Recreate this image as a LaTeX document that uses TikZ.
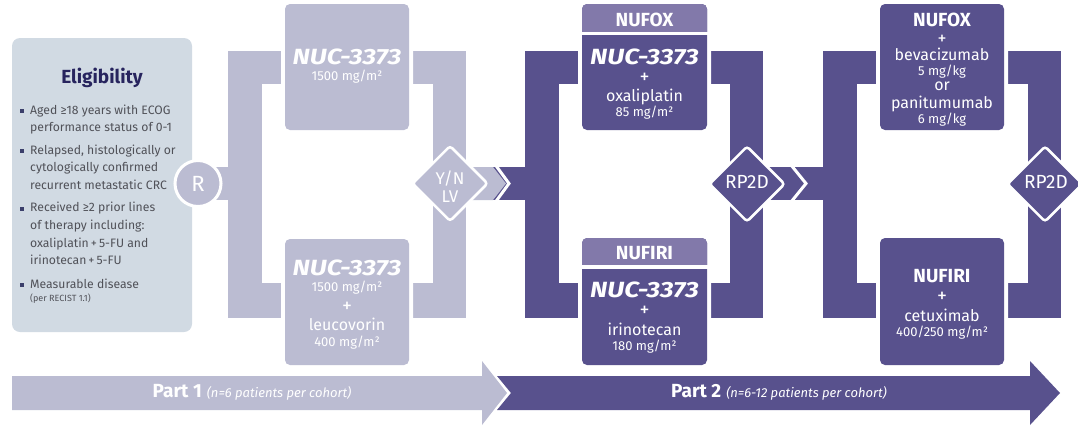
\documentclass[tikz,border=0pt]{standalone}
\usepackage{fontspec}
\setmainfont{Fira Sans}
\usetikzlibrary{shapes.geometric}
\definecolor{lite}{HTML}{BBBCD2}
\definecolor{dark}{HTML}{58518D}
\definecolor{head}{HTML}{8279AA}
\definecolor{elig}{HTML}{D1DAE3}
\definecolor{navy}{HTML}{27245E}
\definecolor{gtext}{HTML}{505158}
\definecolor{bul}{HTML}{3B3F6B}
\newcommand{\nuc}{\scalebox{1.2}[1]{NUC-3373}}
\begin{document}
\begin{tikzpicture}[x=1pt,y=-1pt,
  wt/.style={text=white, anchor=base, inner sep=0pt},
  fnuc/.style={font=\fontsize{22}{22}\selectfont\bfseries\itshape},
  fdose/.style={font=\fontsize{13}{13}\selectfont},
  fdrug/.style={font=\fontsize{16}{16}\selectfont},
  fplus/.style={font=\fontsize{20}{20}\selectfont},
  fhead/.style={font=\fontsize{19}{19}\selectfont\bfseries},
  armbox/.style={rectangle, rounded corners=5pt, inner sep=0pt, preaction={draw=white, line width=8pt}},
  dia/.style={diamond, draw=white, line width=2.5pt, minimum width=76pt, minimum height=76pt, inner sep=0pt, rounded corners=3pt},
  etext/.style={anchor=base west, inner sep=0pt, text=gtext, font=\fontsize{12.2}{14}\selectfont},
  chev/.style={draw=white, line width=3pt},
]
\useasboundingbox (0,0) rectangle (1078,426);

% eligibility box
\node[fill=elig, rounded corners=8pt, minimum width=180pt, minimum height=294pt, inner sep=0pt] (elig) at (102,185) {};
\node[anchor=base, inner sep=0pt, text=navy, font=\fontsize{19}{19}\selectfont\bfseries] (etitle) at (102,83.3) {Eligibility};
\foreach \yy in {111,151,208.7,285.3} \fill[bul] (20,\yy-2) rectangle (24,\yy+2);
\node[etext] (e1) at (30,114) {Aged ≥18 years with ECOG};
\node[etext] (e2) at (30,131.7) {performance status of 0-1};
\node[etext] (e3) at (30,154) {Relapsed, histologically or};
\node[etext] (e4) at (30,171.7) {cytologically confirmed};
\node[etext] (e5) at (30,189.3) {recurrent metastatic CRC};
\node[etext] (e6) at (30,211.7) {Received ≥2 prior lines};
\node[etext] (e7) at (30,229.3) {of therapy including:};
\node[etext] (e8) at (30,247.3) {oxaliplatin\,+\,5-FU and};
\node[etext] (e9) at (30,264) {irinotecan\,+\,5-FU};
\node[etext] (e10) at (30,288.3) {Measurable disease};
\node[etext, font=\fontsize{9}{10}\selectfont] (e11) at (30,301.7) {(per RECIST 1.1)};

% ---------- Part 1 bars
\fill[lite] (198,167) rectangle (245,200);
\fill[lite] (228,51) rectangle (262,318);
\fill[lite] (228,51) rectangle (300,84);
\fill[lite] (228,283) rectangle (300,318);
\fill[lite] (400,51) rectangle (466,84);
\fill[lite] (400,283) rectangle (466,318);
\fill[lite] (433,51) rectangle (466,318);
% connector part1 -> part2
\fill[dark] (485,167) rectangle (540,200);
\fill[lite] (450,167) -- (493,167) -- (506,183.5) -- (493,200) -- (450,200) -- cycle;
\draw[chev] (495.5,165) -- (509,183.5) -- (495.5,202);

% ---------- Part 2 bars
\fill[dark] (525,51) rectangle (559,318);
\fill[dark] (525,51) rectangle (595,84);
\fill[dark] (525,283) rectangle (595,318);
\fill[dark] (695,51) rectangle (763,84);
\fill[dark] (695,283) rectangle (763,318);
\fill[dark] (730,51) rectangle (763,318);
\fill[dark] (747,167) rectangle (840,200);
\draw[chev] (791,165) -- (806,183.5) -- (791,202);

% ---------- Part 3 bars
\fill[dark] (823,51) rectangle (857,318);
\fill[dark] (823,51) rectangle (890,84);
\fill[dark] (823,283) rectangle (890,318);
\fill[dark] (995,51) rectangle (1061,84);
\fill[dark] (995,283) rectangle (1061,318);
\fill[dark] (1028,51) rectangle (1061,318);

% ---------- boxes
\node[armbox, fill=lite, minimum width=124pt, minimum height=126pt] (b1) at (347,67) {};
\node[armbox, fill=lite, minimum width=124pt, minimum height=126pt] (b2) at (347,302) {};
\node[armbox, fill=dark, minimum width=125pt, minimum height=126pt] (b3) at (644.5,67) {};
\node[armbox, fill=dark, minimum width=125pt, minimum height=127pt] (b4) at (644.5,301.5) {};
\node[armbox, fill=dark, minimum width=124pt, minimum height=126pt] (b5) at (942,67) {};
\node[armbox, fill=dark, minimum width=124pt, minimum height=127pt] (b6) at (942,301.5) {};

% headers
\begin{scope}
\clip[rounded corners=5pt] (582,4) rectangle (707,130);
\fill[head] (575,0) rectangle (715,33);
\end{scope}
\draw[white, line width=3pt] (580,33.5) -- (709,33.5);
\begin{scope}
\clip[rounded corners=5pt] (582,238) rectangle (707,365);
\fill[head] (575,230) rectangle (715,266);
\end{scope}
\draw[white, line width=3.5pt] (580,267) -- (709,267);

% diamonds and circle
\node[circle, fill=lite, draw=white, line width=3pt, minimum size=46pt, inner sep=0pt] (R) at (198,183.5) {};
\node[dia, fill=lite] (yn) at (450,183.5) {};
\node[dia, fill=dark] (rp1) at (747,184) {};
\node[dia, fill=dark] (rp2) at (1045,184) {};

\node[wt, font=\fontsize{22}{22}\selectfont] (Rt) at (198,191.5) {R};
\node[wt, font=\fontsize{17}{17}\selectfont] (ynt1) at (450,184) {Y/N};
\node[wt, font=\fontsize{17}{17}\selectfont] (ynt2) at (450,202.5) {LV};
\node[wt, font=\fontsize{19}{19}\selectfont] (rp1t) at (747,188.3) {RP2D};
\node[wt, font=\fontsize{19}{19}\selectfont] (rp2t) at (1046,188.3) {RP2D};

% box texts: part 1
\node[wt, fnuc] (t11) at (347,64.5) {\nuc};
\node[wt, fdose] (t12) at (347,80.7) {1500 mg/m²};
\node[wt, fnuc] (t21) at (347,275) {\nuc};
\node[wt, fdose] (t22) at (347,291.5) {1500 mg/m²};
\node[wt, fplus] (t23) at (347,312) {+};
\node[wt, fdrug] (t24) at (347,330.7) {leucovorin};
\node[wt, fdose] (t25) at (347,346) {400 mg/m²};
% NUFOX
\node[wt, fhead] (t31) at (644.5,26) {NUFOX};
\node[wt, fnuc] (t32) at (644.5,64) {\nuc};
\node[wt, fplus] (t33) at (644.5,83.5) {+};
\node[wt, fdrug] (t34) at (644.5,101.7) {oxaliplatin};
\node[wt, fdose] (t35) at (644.5,116) {85 mg/m²};
% NUFIRI
\node[wt, fhead] (t41) at (644.5,259.3) {NUFIRI};
\node[wt, fnuc] (t42) at (644.5,297.3) {\nuc};
\node[wt, fplus] (t43) at (644.5,316.8) {+};
\node[wt, fdrug] (t44) at (644.5,335) {irinotecan};
\node[wt, fdose] (t45) at (644.5,350.7) {180 mg/m²};
% right top
\node[wt, fhead] (t51) at (942,26) {NUFOX};
\node[wt, font=\fontsize{18}{18}\selectfont] (t52) at (942,44.5) {+};
\node[wt, fdrug] (t53) at (942,60.7) {bevacizumab};
\node[wt, fdose] (t54) at (942,75) {5 mg/kg};
\node[wt, fdrug] (t55) at (942,90) {or};
\node[wt, fdrug] (t56) at (942,108.3) {panitumumab};
\node[wt, fdose] (t57) at (942,123.3) {6 mg/kg};
% right bottom
\node[wt, fhead] (t61) at (942,282.7) {NUFIRI};
\node[wt, fplus] (t62) at (942,302) {+};
\node[wt, fdrug] (t63) at (942,321.7) {cetuximab};
\node[wt, fdose] (t64) at (942,336.7) {400/250 mg/m²};

% bottom arrows
\fill[lite] (12,376) -- (482,376) -- (482,361) -- (507,393) -- (482,425) -- (482,410) -- (12,410) -- cycle;
\fill[dark] (497,376) -- (1030,376) -- (1030,361) -- (1060,393) -- (1030,425) -- (1030,410) -- (497,410) -- (511,393) -- cycle;
\node[wt] (p1) at (252,397) {{\fontsize{19}{19}\selectfont\bfseries Part 1}\hspace{5pt}{\fontsize{13}{13}\selectfont\itshape (n=6 patients per cohort)}};
\node[wt] (p2) at (779,397) {{\fontsize{19}{19}\selectfont\bfseries Part 2}\hspace{5pt}{\fontsize{13}{13}\selectfont\itshape (n=6-12 patients per cohort)}};
\end{tikzpicture}
\end{document}
